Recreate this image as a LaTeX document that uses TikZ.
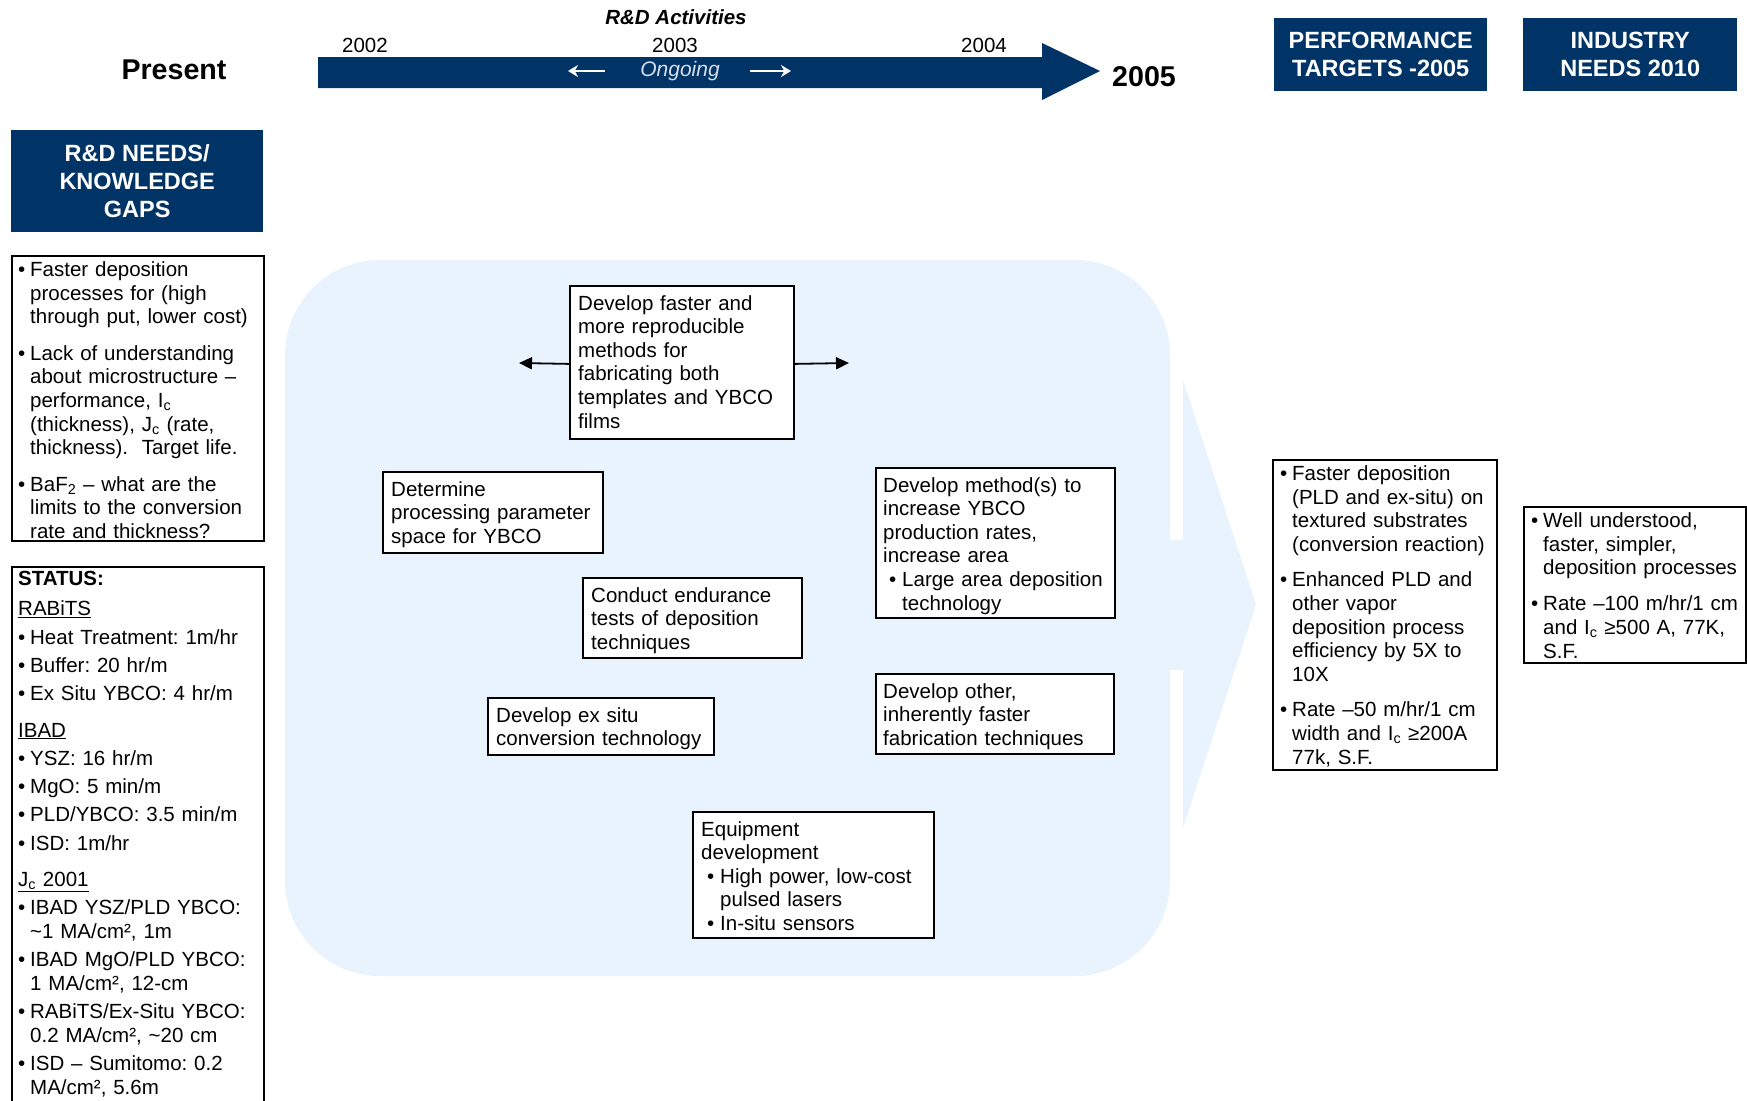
\documentclass[tikz,border=0pt]{standalone}
\usepackage{fontspec}
\setmainfont{Liberation Sans}
\usetikzlibrary{arrows.meta}
\definecolor{navy}{RGB}{0,51,102}
\definecolor{paleblue}{RGB}{233,243,254}
\definecolor{ongo}{RGB}{215,222,235}
\frenchspacing
\newcommand\nl{\hfil\break}
\newcommand\fitem{\hangindent=12pt\hangafter=1\noindent\makebox[12pt][l]{\textbullet}}
\newcommand\bitem{\par\fitem}
\newcommand\sitem{\par\hangindent=19pt\hangafter=1\noindent\hspace*{6pt}\makebox[13pt][l]{\textbullet}}
\newcommand\bodyfont{\fontsize{20.5}{23.6}\selectfont\frenchspacing}
\begin{document}
\begin{tikzpicture}[x=1pt,y=-1pt,
  box/.style={draw=black, line width=1.8pt, fill=white, anchor=north west, inner sep=0pt},
  txt/.style={anchor=north west, inner sep=0pt, align=left, text width=#1, font=\bodyfont},
  hdr/.style={fill=navy, text=white, font=\fontsize{23.5}{28}\selectfont\bfseries, align=center, inner sep=0pt, anchor=north west},
  yr/.style={font=\fontsize{20.5}{24}\selectfont, inner sep=0pt},
  big/.style={font=\fontsize{28.6}{32}\selectfont\bfseries, inner sep=0pt},
  arr/.style={line width=1.8pt, -{Triangle[length=13pt,width=12pt]}},
  warr/.style={white, line width=2.4pt, -{Stealth[length=10pt,width=12pt]}}]
\useasboundingbox (0,0) rectangle (1747,1100);

% ---- timeline header ----
\node[yr, font=\fontsize{20.5}{24}\selectfont\bfseries\itshape] (rda) at (676,17) {R\&D Activities};
\node[yr] (y2002) at (365,45) {2002};
\node[yr] (y2003) at (675,45) {2003};
\node[yr] (y2004) at (984,45) {2004};
\fill[navy] (318,57) -- (1042,57) -- (1042,43) -- (1100,71) -- (1042,100) -- (1042,88) -- (318,88) -- cycle;
\node[yr, text=ongo, font=\fontsize{21}{24}\selectfont\itshape] (ongoing) at (680,71) {Ongoing};
\coordinate (ol1) at (605,71); \coordinate (ol2) at (568,71);
\coordinate (or1) at (750,71); \coordinate (or2) at (791,71);
\draw[warr] (ol1) -- (ol2);
\draw[warr] (or1) -- (or2);
\node[big] (present) at (174,70) {Present};
\node[big] (y2005) at (1144,77) {2005};

\node[hdr, minimum width=213pt, minimum height=73pt] (perfh) at (1274,18) {PERFORMANCE\\TARGETS -2005};
\node[hdr, minimum width=214pt, minimum height=73pt] (indh) at (1523,18) {INDUSTRY\\NEEDS 2010};
\node[hdr, minimum width=252pt, minimum height=102pt] (needh) at (11,130) {R\&D NEEDS/\\KNOWLEDGE\\GAPS};

% ---- pale blue background shape ----
\fill[paleblue, rounded corners=95pt] (285,260) rectangle (1170,976);
\fill[paleblue] (1168,540) rectangle (1184,670);
\fill[paleblue] (1183,380) -- (1256,605) -- (1183,828) -- cycle;

% ---- left column ----
\node[box, minimum width=252pt, minimum height=285pt] (gaps) at (11,255) {};
\node[txt=250pt] (gapst) at ([xshift=7pt,yshift=-6.5pt]gaps.north west) {%
\fitem\setlength\parskip{13pt}Faster deposition\nl processes for (high\nl through put, lower cost)
\bitem Lack of understanding\nl about microstructure –\nl performance, I\textsubscript{c}\nl (thickness), J\textsubscript{c} (rate,\nl thickness).\ \ Target life.
\bitem BaF\textsubscript{2} – what are the\nl limits to the conversion\nl rate and thickness?\par};

\node[box, minimum width=252pt, minimum height=538pt] (status) at (11,566) {};
\node[txt=250pt] (statust) at ([xshift=7pt,yshift=-5pt]status.north west) {%
\noindent\textbf{STATUS:}\setlength\parskip{4.7pt}\par\vspace{2pt}
\noindent\underline{RABiTS}
\bitem Heat Treatment: 1m/hr
\bitem Buffer: 20 hr/m
\bitem Ex Situ YBCO: 4 hr/m
\par\vspace{8pt}\noindent\underline{IBAD}
\bitem YSZ: 16 hr/m
\bitem MgO: 5 min/m
\bitem PLD/YBCO: 3.5 min/m
\bitem ISD: 1m/hr
\par\vspace{8pt}\noindent\underline{J\textsubscript{c} 2001}
\bitem IBAD YSZ/PLD YBCO:\nl \textasciitilde1 MA/cm²,\ 1m
\bitem IBAD MgO/PLD YBCO:\nl 1 MA/cm²,\ 12-cm
\bitem RABiTS/Ex-Situ YBCO:\nl 0.2 MA/cm²,\ \textasciitilde20 cm
\bitem ISD – Sumitomo: 0.2\nl MA/cm²,\ 5.6m\par};

% ---- central activity boxes ----
\node[box, minimum width=224pt, minimum height=153pt] (dfast) at (569,285) {};
\node[txt=215pt] (dfastt) at ([xshift=9pt,yshift=-10pt]dfast.north west) {Develop faster and\\more reproducible\\methods for\\fabricating both\\templates and YBCO\\films};
\coordinate (la) at (519,363);
\coordinate (ra) at (849,363);
\draw[arr] ([yshift=-1.5pt]dfast.west) -- (la);
\draw[arr] ([yshift=-1.5pt]dfast.east) -- (ra);

\node[box, minimum width=220pt, minimum height=81pt] (determ) at (382,471) {};
\node[txt=215pt] (determt) at ([xshift=9pt,yshift=-10pt]determ.north west) {Determine\\processing parameter\\space for YBCO};

\node[box, minimum width=239pt, minimum height=150pt] (method) at (875,467) {};
\node[txt=235pt] (methodt) at ([xshift=8pt,yshift=-10pt]method.north west) {Develop method(s) to\\increase YBCO\\production rates,\\increase area
\sitem Large area deposition\nl technology\par};

\node[box, minimum width=219pt, minimum height=80pt] (conduct) at (582,577) {};
\node[txt=215pt] (conductt) at ([xshift=9pt,yshift=-10pt]conduct.north west) {Conduct endurance\\tests of deposition\\techniques};

\node[box, minimum width=226pt, minimum height=57pt] (exsitu) at (487,697) {};
\node[txt=222pt] (exsitut) at ([xshift=9pt,yshift=-10pt]exsitu.north west) {Develop ex situ\\conversion technology};

\node[box, minimum width=238pt, minimum height=80pt] (other) at (875,673) {};
\node[txt=235pt] (othert) at ([xshift=8pt,yshift=-10pt]other.north west) {Develop other,\\inherently faster\\fabrication techniques};

\node[box, minimum width=241pt, minimum height=126pt] (equip) at (692,811) {};
\node[txt=235pt] (equipt) at ([xshift=9pt,yshift=-10pt]equip.north west) {Equipment\\development
\sitem High power, low-cost\nl pulsed lasers
\sitem In-situ sensors\par};

% ---- right column ----
\node[box, minimum width=224pt, minimum height=310pt] (perf) at (1272,459) {};
\node[txt=222pt] (perft) at ([xshift=8pt,yshift=-6.5pt]perf.north west) {%
\fitem\setlength\parskip{12pt}Faster deposition\nl (PLD and ex-situ) on\nl textured substrates\nl (conversion reaction)
\bitem Enhanced PLD and\nl other vapor\nl deposition process\nl efficiency by 5X to\nl 10X
\bitem Rate –50 m/hr/1 cm\nl width and I\textsubscript{c} ≥200A\nl 77k, S.F.\par};

\node[box, minimum width=222pt, minimum height=156pt] (ind) at (1523,506) {};
\node[txt=220pt] (indt) at ([xshift=8pt,yshift=-6.5pt]ind.north west) {%
\fitem\setlength\parskip{12.5pt}Well understood,\nl faster, simpler,\nl deposition processes
\bitem Rate –100 m/hr/1 cm\nl and I\textsubscript{c} ≥500 A, 77K,\nl S.F.\par};
\end{tikzpicture}
\end{document}
